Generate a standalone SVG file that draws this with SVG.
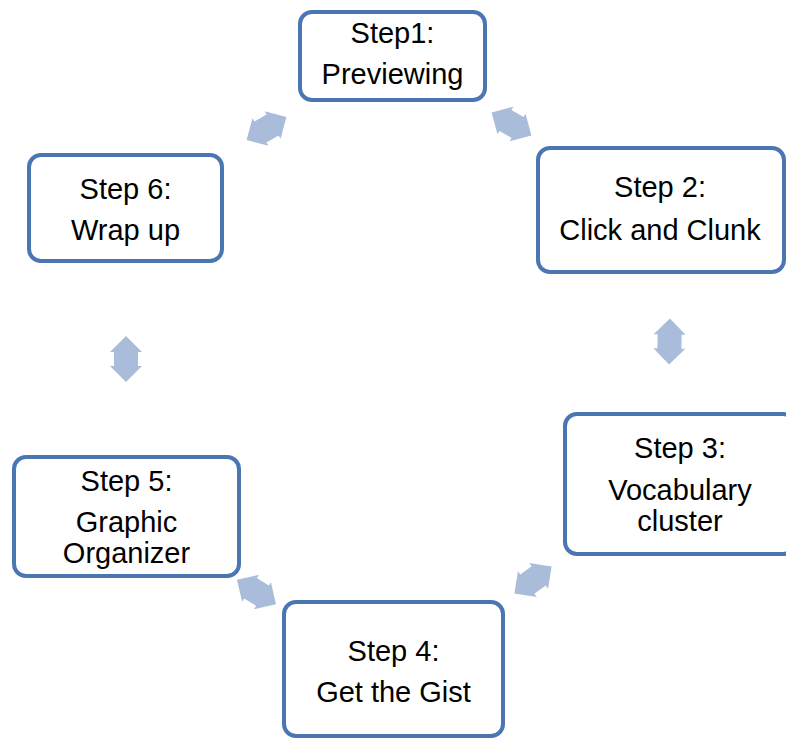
<svg xmlns="http://www.w3.org/2000/svg" xmlns:xlink="http://www.w3.org/1999/xlink" width="786" height="740" viewBox="0 0 786 740">
  <style>
    .box { fill: #ffffff; stroke: #4a77b4; stroke-width: 4; }
    .lbl { font-family: "Liberation Sans", Arial, sans-serif; font-size: 29px; fill: #000000; text-anchor: middle; }
    .arr { fill: #a9bddb; stroke: none; }
  </style>
  <defs>
    <path id="dbl" d="M23,0 L7,-16 L7,-12 L-7,-12 L-7,-16 L-23,0 L-7,16 L-7,12 L7,12 L7,16 Z"/>
  </defs>
  <rect width="786" height="740" fill="#ffffff"/>

  <g id="connectors" class="arr">
    <use xlink:href="#dbl" transform="translate(266.5,128.5) rotate(-30)"/>
    <use xlink:href="#dbl" transform="translate(511.5,124) rotate(30)"/>
    <use xlink:href="#dbl" transform="translate(669.5,341.5) rotate(91)"/>
    <use xlink:href="#dbl" transform="translate(126,359) rotate(90)"/>
    <use xlink:href="#dbl" transform="translate(256.5,592) rotate(32)"/>
    <use xlink:href="#dbl" transform="translate(533,580) rotate(-36)"/>
  </g>

  <g id="step1">
    <rect class="box" x="300" y="12" width="185" height="88" rx="12"/>
    <text class="lbl" x="392.5" y="42.5">Step1:</text>
    <text class="lbl" x="392.5" y="84">Previewing</text>
  </g>

  <g id="step2">
    <rect class="box" x="538" y="148" width="246" height="124" rx="12"/>
    <text class="lbl" x="660" y="197">Step 2:</text>
    <text class="lbl" x="660" y="239.5">Click and Clunk</text>
  </g>

  <g id="step3">
    <rect class="box" x="565" y="414" width="230" height="140" rx="12"/>
    <text class="lbl" x="680" y="458">Step 3:</text>
    <text class="lbl" x="680" y="499.5">Vocabulary</text>
    <text class="lbl" x="680" y="530.5">cluster</text>
  </g>

  <g id="step4">
    <rect class="box" x="284" y="602" width="219" height="134" rx="12"/>
    <text class="lbl" x="393.5" y="661">Step 4:</text>
    <text class="lbl" x="393.5" y="702">Get the Gist</text>
  </g>

  <g id="step5">
    <rect class="box" x="14" y="457" width="225" height="119" rx="12"/>
    <text class="lbl" x="126.5" y="491">Step 5:</text>
    <text class="lbl" x="126.5" y="532">Graphic</text>
    <text class="lbl" x="126.5" y="563">Organizer</text>
  </g>

  <g id="step6">
    <rect class="box" x="29" y="155" width="193" height="106" rx="12"/>
    <text class="lbl" x="125.5" y="199">Step 6:</text>
    <text class="lbl" x="125.5" y="240">Wrap up</text>
  </g>
</svg>
